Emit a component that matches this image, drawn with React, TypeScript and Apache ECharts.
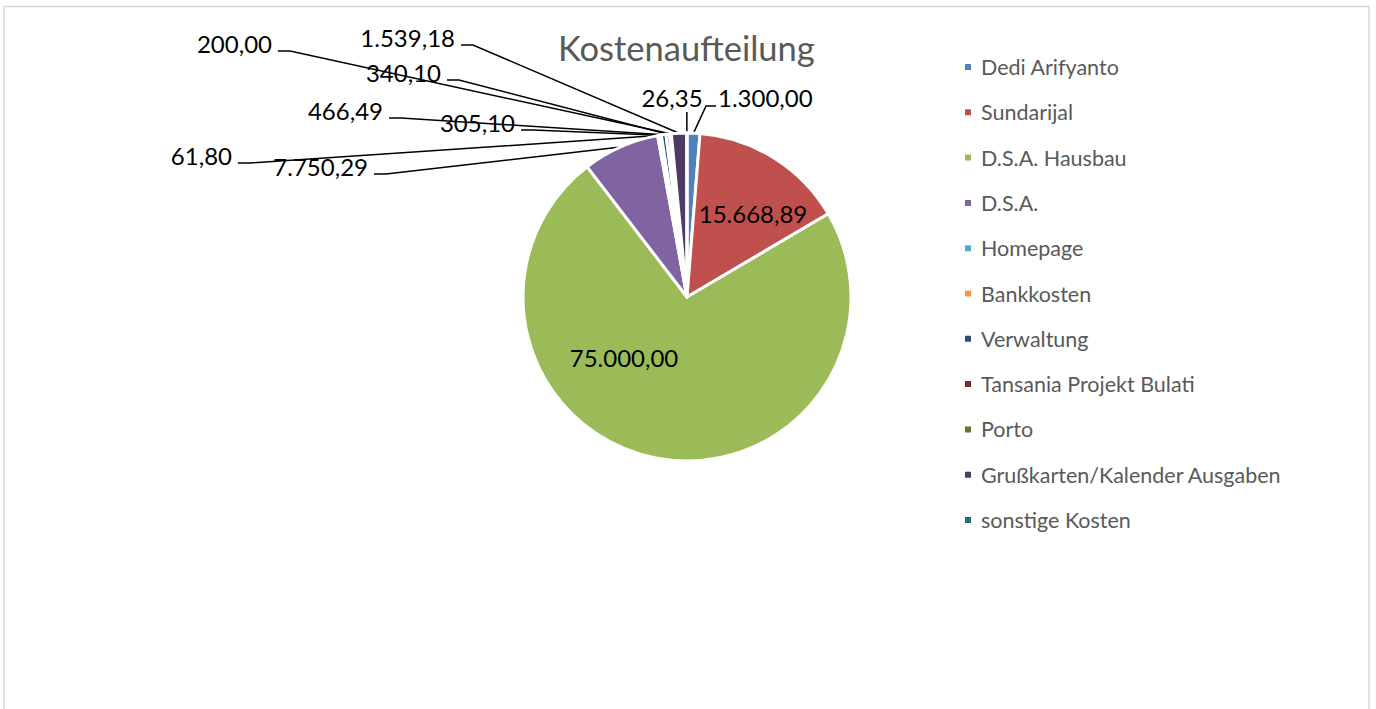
import React, { useEffect, useRef } from "react";
import * as echarts from "echarts";

const chartTitle = "Kostenaufteilung";
const categories = [
  "Dedi Arifyanto",
  "Sundarijal",
  "D.S.A. Hausbau",
  "D.S.A.",
  "Homepage",
  "Bankkosten",
  "Verwaltung",
  "Tansania Projekt Bulati",
  "Porto",
  "Grußkarten/Kalender Ausgaben",
  "sonstige Kosten",
];
const values = [1300.0, 15668.89, 75000.0, 7750.29, 61.8, 305.1, 466.49, 340.1, 200.0, 1539.18, 26.35];
const colors = [
  "#4F81BD", "#C0504D", "#9BBB59", "#8064A2", "#4BACC6", "#F79646",
  "#2C4D75", "#772C2A", "#5F7530", "#4D3B62", "#276A7C",
];

// label placement (layout only): kind, anchor x, center y
type Spot = { kind: "inside" | "leftOut" | "rightOut" | "up"; x: number; y: number };
const spots: Spot[] = [
  { kind: "rightOut", x: 718, y: 97 },
  { kind: "inside", x: 753, y: 213 },
  { kind: "inside", x: 624, y: 357 },
  { kind: "leftOut", x: 368, y: 166 },
  { kind: "leftOut", x: 232, y: 155 },
  { kind: "leftOut", x: 515, y: 122 },
  { kind: "leftOut", x: 383, y: 110 },
  { kind: "leftOut", x: 441, y: 72 },
  { kind: "leftOut", x: 272, y: 43 },
  { kind: "leftOut", x: 455, y: 37 },
  { kind: "up", x: 672, y: 97 },
];

function fmtDE(v: number): string {
  const fixed = v.toFixed(2);
  const [intPart, dec] = fixed.split(".");
  const withDots = intPart.replace(/\B(?=(\d{3})+(?!\d))/g, ".");
  return withDots + "," + dec;
}

const FONT = "Lato";

export default function App() {
  const ref = useRef<HTMLDivElement>(null);
  useEffect(() => {
    if (!ref.current) return;
    const chart = echarts.init(ref.current, undefined, { renderer: "svg" });
    const data = categories.map((name, i) => {
      const inside = spots[i].kind === "inside";
      return {
        name,
        value: values[i],
        itemStyle: { color: colors[i] },
        label: { position: inside ? "inside" : "outside" },
        labelLine: { show: !inside },
      };
    });
    chart.setOption({
      animation: false,
      backgroundColor: "#ffffff",
      title: {
        text: chartTitle,
        left: 553,
        top: 25,
        textStyle: { fontFamily: FONT, fontSize: 34.5, fontWeight: "normal", color: "#595959" },
      },
      legend: {
        orient: "vertical",
        left: 958,
        top: 51,
        icon: "rect",
        itemWidth: 8,
        itemHeight: 8,
        itemGap: 23.3,
        data: categories,
        textStyle: {
          fontFamily: FONT,
          fontSize: 21.5,
          lineHeight: 20,
          color: "#595959",
          padding: [0, 0, 0, 4],
        },
        selectedMode: false,
      },
      graphic: [
        {
          type: "rect",
          shape: { x: 4, y: 6.5, width: 1365, height: 720 },
          style: { fill: "none", stroke: "#D9D9D9", lineWidth: 1.5 },
          silent: true,
        },
      ],
      series: [
        {
          type: "pie",
          center: [687, 297],
          radius: 164,
          startAngle: 90,
          clockwise: true,
          avoidLabelOverlap: false,
          itemStyle: { borderColor: "#ffffff", borderWidth: 3 },
          emphasis: { disabled: true },
          label: {
            show: true,
            color: "#000000",
            fontFamily: FONT,
            fontSize: 24,
            formatter: (p: any) => fmtDE(p.value),
          },
          labelLine: {
            show: true,
            length: 10,
            length2: 10,
            lineStyle: { color: "#000000", width: 1.5 },
          },
          labelLayout: (params: any) => {
            const s = spots[params.dataIndex];
            const base = params.labelLinePoints;
            if (s.kind === "inside") {
              return { x: s.x, y: s.y, align: "center", verticalAlign: "middle" };
            }
            const p0 = base ? base[0] : [687, 133];
            if (s.kind === "leftOut") {
              return {
                x: s.x,
                y: s.y,
                align: "right",
                verticalAlign: "middle",
                labelLinePoints: [p0, [s.x + 18, s.y + 8], [s.x + 6, s.y + 8]],
              };
            }
            if (s.kind === "rightOut") {
              return {
                x: s.x,
                y: s.y,
                align: "left",
                verticalAlign: "middle",
                labelLinePoints: [p0, [s.x - 12, s.y + 9], [s.x - 2, s.y + 9]],
              };
            }
            return {
              x: s.x,
              y: s.y,
              align: "center",
              verticalAlign: "middle",
              labelLinePoints: [p0, [p0[0], s.y + 16], [p0[0], s.y + 15]],
            };
          },
          data,
        },
      ],
    });
    return () => chart.dispose();
  }, []);
  return (
    <div
      ref={ref}
      style={{ position: "fixed", left: 0, top: 0, width: 1376, height: 709, background: "#fff" }}
    />
  );
}
